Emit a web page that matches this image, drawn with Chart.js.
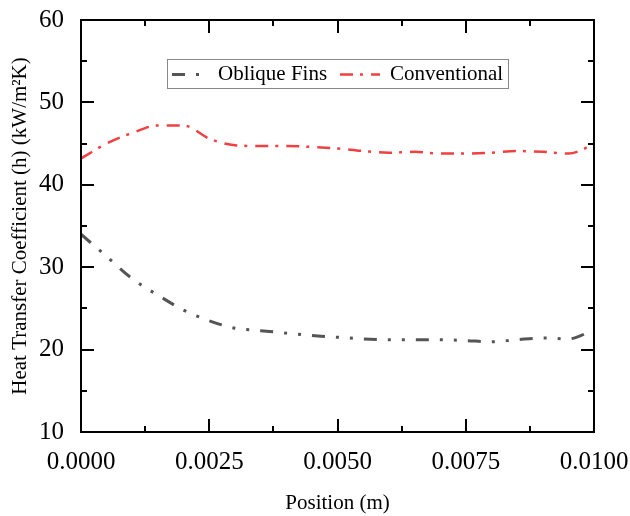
<!DOCTYPE html>
<html>
<head>
<meta charset="utf-8">
<script src="https://cdn.jsdelivr.net/npm/chart.js@4.4.0/dist/chart.umd.min.js"></script>
<style>
  html, body { margin: 0; padding: 0; background: #fff; }
  #wrap { width: 630px; height: 516px; position: relative; }
</style>
</head>
<body>
<div id="wrap"><canvas id="htcChart"></canvas></div>
<script>
// data
const positions = [0, 0.0005, 0.001, 0.0015, 0.002, 0.0025, 0.003, 0.0035, 0.004, 0.0045, 0.005,
                   0.0055, 0.006, 0.0065, 0.007, 0.0075, 0.008, 0.0085, 0.009, 0.0095, 0.01];
const obliqueFins = [34.0, 31.3, 28.6, 26.6, 24.8, 23.5, 22.6, 22.3, 22.0, 21.7, 21.5,
                     21.3, 21.2, 21.2, 21.2, 21.1, 20.95, 21.2, 21.4, 21.3, 22.4];
const conventional = [43.2, 45.0, 46.3, 47.2, 47.2, 45.6, 44.8, 44.7, 44.7, 44.6, 44.4,
                      44.1, 43.9, 44.0, 43.8, 43.8, 43.9, 44.1, 44.0, 43.8, 44.9];
const xTicks = [0, 0.0025, 0.005, 0.0075, 0.01];
const yTicks = [10, 20, 30, 40, 50, 60];

const serif = '"Liberation Serif", "Times New Roman", serif';

const toPoints = (ys) => positions.map((x, i) => ({ x: x, y: ys[i] }));

// keep the plot box where the reference has it, labels may overflow
const noOverflow = (s) => {
    s.paddingTop = 0; s.paddingBottom = 0;
    s.paddingLeft = 0; s.paddingRight = 0;
};

// frame, inward ticks on all four sides
const framePlugin = {
    id: 'frame',
    afterDraw(chart) {
        const { ctx, chartArea: a, scales } = chart;
        ctx.save();
        ctx.strokeStyle = '#000';
        ctx.lineWidth = 2;
        ctx.strokeRect(a.left, a.top, a.right - a.left, a.bottom - a.top);
        ctx.beginPath();
        const xs = scales.x, ys = scales.y;
        for (let v = 0; v <= 0.01 + 1e-9; v += 0.00125) {
            const px = Math.round(xs.getPixelForValue(v));
            const major = Math.abs((v / 0.0025) - Math.round(v / 0.0025)) < 1e-6;
            const len = major ? 13 : 6;
            ctx.moveTo(px, a.bottom); ctx.lineTo(px, a.bottom - len);
            ctx.moveTo(px, a.top); ctx.lineTo(px, a.top + len);
        }
        for (let v = 10; v <= 60; v += 5) {
            const py = Math.round(ys.getPixelForValue(v));
            const len = v % 10 === 0 ? 13 : 6;
            ctx.moveTo(a.left, py); ctx.lineTo(a.left + len, py);
            ctx.moveTo(a.right, py); ctx.lineTo(a.right - len, py);
        }
        ctx.stroke();
        ctx.restore();
    }
};

// boxed legend inside the plot
const boxLegendPlugin = {
    id: 'boxLegend',
    afterDraw(chart) {
        const { ctx } = chart;
        const box = { x: 167, y: 59, w: 341, h: 29 };
        ctx.save();
        ctx.strokeStyle = '#888';
        ctx.lineWidth = 1;
        ctx.strokeRect(box.x + 0.5, box.y + 0.5, box.w, box.h);
        ctx.font = '21px ' + serif;
        ctx.textBaseline = 'middle';
        const cy = box.y + box.h / 2 + 1;
        const items = [
            { ds: chart.data.datasets[0], x0: 172, x1: 208, tx: 218 },
            { ds: chart.data.datasets[1], x0: 340, x1: 380, tx: 390 }
        ];
        items.forEach(it => {
            ctx.beginPath();
            ctx.strokeStyle = it.ds.borderColor;
            ctx.lineWidth = it.ds.borderWidth;
            ctx.setLineDash(it.ds.borderDash);
            ctx.moveTo(it.x0, cy);
            ctx.lineTo(it.x1, cy);
            ctx.stroke();
            ctx.setLineDash([]);
            ctx.fillStyle = '#000';
            ctx.fillText(it.ds.label, it.tx, cy);
        });
        ctx.restore();
    }
};

new Chart(document.getElementById('htcChart').getContext('2d'), {
    type: 'line',
    data: {
        datasets: [{
            label: 'Oblique Fins',
            data: toPoints(obliqueFins),
            borderColor: '#555555',
            borderWidth: 3,
            borderDash: [13, 11, 3, 11, 3, 11],
            pointRadius: 0,
            cubicInterpolationMode: 'monotone',
            fill: false
        }, {
            label: 'Conventional',
            data: toPoints(conventional),
            borderColor: 'rgb(240, 64, 64)',
            borderWidth: 2.5,
            borderDash: [13, 7, 3, 8],
            pointRadius: 0,
            cubicInterpolationMode: 'monotone',
            fill: false
        }]
    },
    options: {
        responsive: true,
        maintainAspectRatio: false,
        animation: false,
        layout: { padding: { top: 20, right: 36, left: 4, bottom: 0 } },
        plugins: {
            legend: { display: false },
            tooltip: { enabled: false }
        },
        scales: {
            x: {
                type: 'linear',
                min: 0,
                max: 0.01,
                afterBuildTicks: (s) => { s.ticks = xTicks.map(v => ({ value: v })); },
                afterFit: (s) => { s.height = 84; noOverflow(s); },
                grid: { display: false, drawTicks: false },
                border: { display: false },
                ticks: {
                    color: '#000',
                    padding: 15,
                    maxRotation: 0,
                    font: { family: serif, size: 25 },
                    callback: (v) => Number(v).toFixed(4)
                },
                title: {
                    display: true,
                    text: 'Position (m)',
                    color: '#000',
                    padding: { top: 0, bottom: 0 },
                    font: { family: serif, size: 21 }
                }
            },
            y: {
                min: 10,
                max: 60,
                afterBuildTicks: (s) => { s.ticks = yTicks.map(v => ({ value: v })); },
                afterFit: (s) => { s.width = 77; noOverflow(s); },
                grid: { display: false, drawTicks: false },
                border: { display: false },
                ticks: {
                    color: '#000',
                    padding: 17,
                    font: { family: serif, size: 25 }
                },
                title: {
                    display: true,
                    text: 'Heat Transfer Coefficient (h) (kW/m²K)',
                    color: '#000',
                    padding: { top: 4, bottom: 0 },
                    font: { family: serif, size: 21 }
                }
            }
        }
    },
    plugins: [framePlugin, boxLegendPlugin]
});
</script>
</body>
</html>
